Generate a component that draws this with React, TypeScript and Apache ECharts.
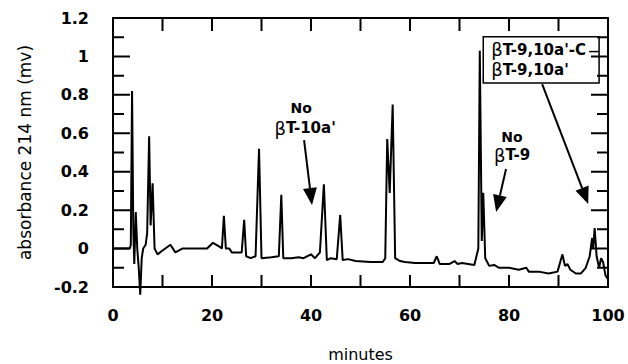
import React, { useEffect, useRef } from 'react';
import * as echarts from 'echarts';

// retention time (minutes)
const times = [
  0, 3.4, 3.6, 3.85, 4.1, 4.3, 4.6, 4.9, 5.2, 5.5, 5.8, 6.1, 6.6, 6.9, 7.3, 7.6, 8.0, 8.4, 9.0, 10.0,
  11.6, 12.6, 14.0, 16.0, 19.0, 20.2, 21.5, 22.0, 22.4, 22.8, 23.5, 24.0, 25.5, 26.0, 26.5, 26.9,
  27.8, 28.8, 29.5, 30.0, 32.0, 33.5, 34.0, 34.4, 36.0, 37.5, 38.5, 40.0, 40.8, 41.8, 42.6, 43.2,
  44.0, 45.2, 45.9, 46.4, 47.5, 49.0, 52.0, 54.5, 55.0, 55.4, 55.9, 56.5, 57.0, 58.0, 59.0, 61.0,
  62.5, 64.8, 65.4, 66.0, 68.0, 69.0, 69.6, 70.5, 73.0, 73.8, 74.1, 74.5, 74.8, 75.2, 76.0, 77.0,
  78.0, 80.0, 82.0, 83.5, 84.0, 86.0, 88.0, 89.8, 90.8, 91.3, 91.8, 92.4, 93.5, 94.5, 95.5, 96.3,
  96.8, 97.0, 97.3, 97.7, 98.2, 98.6, 99.0, 99.5, 100,
];
// absorbance 214 nm (mv)
const absorbance = [
  0.0, 0.0, 0.02, 0.82, 0.1, -0.08, 0.19, 0.0, -0.1, -0.24, -0.05, 0.0, 0.02, 0.08, 0.585, 0.12, 0.34, 0.0, -0.03, -0.01,
  0.02, -0.02, 0.0, 0.0, 0.0, 0.03, 0.01, 0.0, 0.17, 0.0, 0.0, -0.02, -0.02, -0.02, 0.15, -0.04,
  -0.05, -0.04, 0.52, -0.05, -0.045, -0.04, 0.28, -0.05, -0.05, -0.045, -0.05, -0.03, -0.05, -0.02, 0.335, -0.06,
  -0.05, -0.055, 0.175, -0.06, -0.055, -0.065, -0.07, -0.07, -0.05, 0.57, 0.29, 0.75, -0.05, -0.065, -0.07, -0.075,
  -0.075, -0.075, -0.04, -0.08, -0.08, -0.065, -0.08, -0.075, -0.085, 0.0, 1.03, 0.04, 0.29, -0.05, -0.09, -0.085,
  -0.1, -0.1, -0.11, -0.1, -0.12, -0.12, -0.13, -0.12, -0.03, -0.09, -0.08, -0.11, -0.13, -0.13, -0.1, -0.04,
  0.055, 0.0, 0.107, -0.04, -0.1, -0.05, -0.07, -0.14, -0.16,
];

const xMin = 0;
const xMax = 100;
const xStep = 20;
const yMin = -0.2;
const yMax = 1.2;
const yStep = 0.2;

// tick marks drawn inside the frame on all four sides
const xTickValues = [10, 20, 30, 40, 50, 60, 70, 80, 90];
const yTickValues = [-0.1, 0, 0.1, 0.2, 0.3, 0.4, 0.5, 0.6, 0.7, 0.8, 0.9, 1.0, 1.1];
const yTickMajor = [0, 1, 0, 1, 0, 1, 0, 1, 0, 1, 0, 1, 0];

const xName = 'minutes';
const yName = 'absorbance 214 nm (mv)';

// annotations in data units
const annoNo1 = { label: [38.0, 0.73], sub: [38.8, 0.625], from: [38.6, 0.565], to: [40.2, 0.227] };
const annoNo2 = { label: [80.6, 0.58], sub: [80.6, 0.485], from: [79.4, 0.414], to: [77.4, 0.19] };
const annoBox = { tl: [74.8, 1.102], br: [98.2, 0.862], from: [86.7, 0.856], to: [96.0, 0.232] };

const FONT = 'DejaVu Sans';

export default function App() {
  const ref = useRef<HTMLDivElement>(null);
  useEffect(() => {
    if (!ref.current) return;
    const chart = echarts.init(ref.current, null, { renderer: 'svg' });
    const data = times.map((t, i) => [t, absorbance[i]]);
    const mkLine = () => ({ show: true, onZero: false, lineStyle: { color: '#000', width: 2 } });
    const labelStyle = { color: '#000', fontFamily: FONT, fontWeight: 'bold', fontSize: 16 };
    const hidden = { axisTick: { show: false }, minorTick: { show: false }, splitLine: { show: false } };
    chart.setOption({
      animation: false,
      backgroundColor: '#fff',
      grid: { left: 113, right: 20, top: 18, bottom: 77, outerBoundsMode: 'none', containLabel: false },
      xAxis: [
        {
          type: 'value', min: xMin, max: xMax, interval: xStep, position: 'bottom',
          axisLine: mkLine(), ...hidden,
          axisLabel: { ...labelStyle, margin: 20 },
          name: xName, nameLocation: 'middle', nameGap: 59,
          nameTextStyle: { color: '#000', fontFamily: FONT, fontSize: 16 },
        },
        {
          type: 'value', min: xMin, max: xMax, interval: xStep, position: 'top',
          axisLine: mkLine(), ...hidden,
          axisLabel: { show: false },
        },
      ],
      yAxis: [
        {
          type: 'value', min: yMin, max: yMax, interval: yStep, position: 'left',
          axisLine: mkLine(), ...hidden,
          axisLabel: { ...labelStyle, margin: 24 },
          name: yName, nameLocation: 'middle', nameGap: 80, nameRotate: 90,
          nameTextStyle: { color: '#000', fontFamily: FONT, fontSize: 17 },
        },
        {
          type: 'value', min: yMin, max: yMax, interval: yStep, position: 'right',
          axisLine: mkLine(), ...hidden,
          axisLabel: { show: false },
        },
      ],
      series: [
        {
          type: 'line', data, showSymbol: false, symbol: 'none', clip: false,
          lineStyle: { color: '#000', width: 2 },
          z: 3,
        },
      ],
    });

    // linear pixel mapping taken from the grid's own scales (interior reference points)
    const pA = chart.convertToPixel({ gridIndex: 0 }, [10, 0]) as number[];
    const pB = chart.convertToPixel({ gridIndex: 0 }, [90, 1]) as number[];
    const sx = (pB[0] - pA[0]) / 80;
    const sy = pB[1] - pA[1];
    const X = (v: number) => pA[0] + (v - 10) * sx;
    const Y = (v: number) => pA[1] + v * sy;
    const px = (v: number[]) => [X(v[0]), Y(v[1])];

    const yBottom = Y(yMin);
    const yTop = Y(yMax);
    const xLeft = X(xMin);
    const xRight = X(xMax);
    // each side of the frame as one zig-zag polyline carrying its inward ticks
    const bottomPts: number[][] = [[xLeft, yBottom]];
    const topPts: number[][] = [[xLeft, yTop]];
    xTickValues.forEach((v) => {
      const x = X(v);
      bottomPts.push([x, yBottom], [x, yBottom - 12], [x, yBottom]);
      topPts.push([x, yTop], [x, yTop + 13], [x, yTop]);
    });
    bottomPts.push([xRight, yBottom]);
    topPts.push([xRight, yTop]);
    const leftPts: number[][] = [[xLeft, yBottom]];
    const rightPts: number[][] = [[xRight, yBottom]];
    yTickValues.forEach((v, i) => {
      const len = yTickMajor[i] ? 17 : 11;
      const y = Y(v);
      leftPts.push([xLeft, y], [xLeft + len, y], [xLeft, y]);
      rightPts.push([xRight, y], [xRight - len, y], [xRight, y]);
    });
    leftPts.push([xLeft, yTop]);
    rightPts.push([xRight, yTop]);
    const frame = [bottomPts, topPts, leftPts, rightPts].map((points) => ({
      type: 'polyline', z: 20,
      shape: { points },
      style: { stroke: '#000', lineWidth: 2, fill: null, lineJoin: 'miter' },
    }));

    const arrow = (from: number[], to: number[]) => {
      const a = px(from);
      const b = px(to);
      const dx = b[0] - a[0];
      const dy = b[1] - a[1];
      const len = Math.hypot(dx, dy);
      const ux = dx / len;
      const uy = dy / len;
      const hl = 17;
      const hw = 7;
      const bx = b[0] - ux * hl;
      const by = b[1] - uy * hl;
      return [
        { type: 'line', shape: { x1: a[0], y1: a[1], x2: bx, y2: by }, style: { stroke: '#000', lineWidth: 2 }, z: 10 },
        {
          type: 'polygon',
          shape: { points: [[b[0], b[1]], [bx - uy * hw, by + ux * hw], [bx + uy * hw, by - ux * hw]] },
          style: { fill: '#000' }, z: 10,
        },
      ];
    };
    const rich = {
      b: { fontFamily: FONT, fontSize: 18, fontWeight: 'normal', fill: '#000' },
      t: { fontFamily: FONT, fontSize: 15, fontWeight: 'bold', fill: '#000' },
    };
    const label = (pos: number[], text: string, size = 13) => {
      const p = px(pos);
      return {
        type: 'text', x: p[0], y: p[1], z: 10,
        style: { text, fill: '#000', font: `bold ${size}px "${FONT}"`, align: 'center', verticalAlign: 'middle' },
      };
    };
    const richLabel = (pos: number[], text: string) => {
      const p = px(pos);
      return {
        type: 'text', x: p[0], y: p[1], z: 11,
        style: { text, rich, align: 'center', verticalAlign: 'middle' },
      };
    };
    const tl = px(annoBox.tl);
    const br = px(annoBox.br);
    chart.setOption({
      graphic: [
        ...frame,
        label(annoNo1.label, 'No', 14),
        richLabel(annoNo1.sub, "{b|β}{t|T-10a'}"),
        ...arrow(annoNo1.from, annoNo1.to),
        label(annoNo2.label, 'No', 14),
        richLabel(annoNo2.sub, '{b|β}{t|T-9}'),
        ...arrow(annoNo2.from, annoNo2.to),
        {
          type: 'rect', z: 9,
          shape: { x: tl[0], y: tl[1], width: br[0] - tl[0], height: br[1] - tl[1] },
          style: { fill: '#fff', stroke: '#000', lineWidth: 1.5 },
        },
        {
          type: 'text', x: tl[0] + 8, y: tl[1] + 13, z: 11,
          style: { text: "{b|β}{t|T-9,10a'-C}", rich, align: 'left', verticalAlign: 'middle' },
        },
        {
          type: 'rect', z: 21,
          shape: { x: br[0] - 10, y: tl[1] + 14, width: 10, height: 1.5 },
          style: { fill: '#000' },
        },
        {
          type: 'text', x: tl[0] + 8, y: tl[1] + 33, z: 11,
          style: { text: "{b|β}{t|T-9,10a'}", rich, align: 'left', verticalAlign: 'middle' },
        },
        ...arrow(annoBox.from, annoBox.to),
      ],
    });
    return () => chart.dispose();
  }, []);
  return (
    <div
      ref={ref}
      style={{ position: 'absolute', left: 0, top: 0, width: 628, height: 364, background: '#fff' }}
    />
  );
}
